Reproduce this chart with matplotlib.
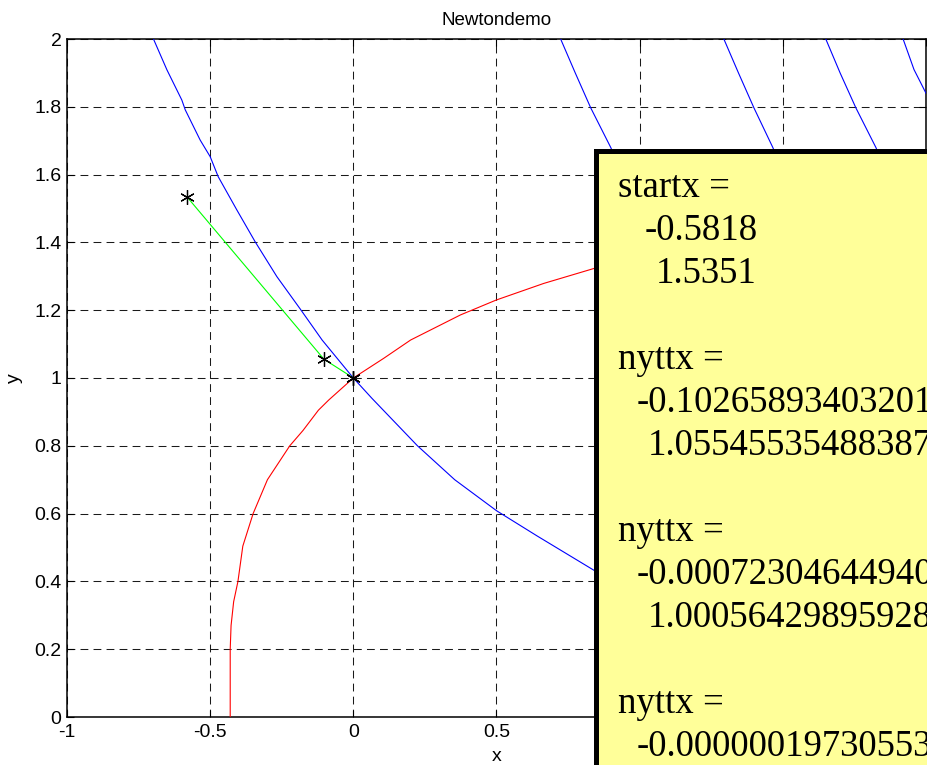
import matplotlib
matplotlib.use("Agg")
import matplotlib.pyplot as plt
from matplotlib.patches import Rectangle

# ---------------- data ----------------
# blue contour, main branch through (0, 1)
blue_main_x = [-0.698, -0.651, -0.599, -0.587, -0.535, -0.500, -0.472, -0.407, -0.343,
               -0.267, -0.185, -0.109, 0.000, 0.065, 0.224, 0.354, 0.501, 0.642, 0.840, 0.900]
blue_main_y = [2.000, 1.909, 1.820, 1.791, 1.702, 1.653, 1.594, 1.496, 1.402,
               1.299, 1.203, 1.112, 1.000, 0.940, 0.800, 0.700, 0.608, 0.534, 0.433, 0.405]
# blue contour, upper-right branches
blue_a_x = [0.724, 0.775, 0.829, 0.899, 0.925]
blue_a_y = [2.000, 1.900, 1.797, 1.680, 1.630]
blue_b_x = [1.294, 1.345, 1.399, 1.465, 1.490]
blue_b_y = [2.000, 1.900, 1.797, 1.680, 1.630]
blue_c_x = [1.650, 1.700, 1.755, 1.825, 1.850]
blue_c_y = [2.000, 1.900, 1.797, 1.680, 1.630]
blue_d_x = [1.920, 1.958, 2.000]
blue_d_y = [2.000, 1.910, 1.840]
# red contour
red_x = [-0.430, -0.430, -0.427, -0.418, -0.403, -0.386, -0.350, -0.300, -0.222, -0.176,
         -0.122, -0.086, 0.000, 0.106, 0.200, 0.374, 0.499, 0.665, 0.840, 0.950]
red_y = [0.000, 0.200, 0.270, 0.340, 0.400, 0.504, 0.600, 0.700, 0.800, 0.845,
         0.905, 0.935, 1.000, 1.058, 1.112, 1.186, 1.230, 1.279, 1.323, 1.350]
# Newton iterates
iter_x = [-0.5818, -0.102658934032010, -0.000723046449405, -0.000000197305533]
iter_y = [1.5351, 1.055455354883870, 1.000564298959280, 1.000000232000000]

x_ticks = [-1, -0.5, 0, 0.5, 1, 1.5, 2]
x_tick_labels = ["-1", "-0.5", "0", "0.5", "1", "1.5", "2"]
y_ticks = [0, 0.2, 0.4, 0.6, 0.8, 1.0, 1.2, 1.4, 1.6, 1.8, 2.0]
y_tick_labels = ["0", "0.2", "0.4", "0.6", "0.8", "1", "1.2", "1.4", "1.6", "1.8", "2"]

title_text = "Newtondemo"
x_label = "x"
y_label = "y"

# ---------------- figure ----------------
W, H = 928, 765
fig = plt.figure(figsize=(W / 100, H / 100), dpi=100)
fig.patch.set_facecolor("white")
plt.rcParams["font.family"] = ["Liberation Sans", "DejaVu Sans"]

ax_l, ax_r, ax_t, ax_b = 67, 926, 39, 717
ax = fig.add_axes([ax_l / W, 1 - ax_b / H, (ax_r - ax_l) / W, (ax_b - ax_t) / H])
ax.set_xlim(-1, 2)
ax.set_ylim(0, 2)

lw = 0.8
for bx, by in [(blue_main_x, blue_main_y), (blue_a_x, blue_a_y), (blue_b_x, blue_b_y),
               (blue_c_x, blue_c_y), (blue_d_x, blue_d_y)]:
    ax.plot(bx, by, color="#0000FF", lw=lw, zorder=3)
ax.plot(red_x, red_y, color="#FF0000", lw=lw, zorder=3)
ax.plot(iter_x, iter_y, color="#00FF00", lw=lw, zorder=4)
ax.plot(iter_x, iter_y, linestyle="none", marker=(6, 2, 0), markersize=10.5,
        markeredgecolor="black", markeredgewidth=0.9, color="black", zorder=5)

ax.set_xticks(x_ticks)
ax.set_xticklabels(x_tick_labels)
ax.set_yticks(y_ticks)
ax.set_yticklabels(y_tick_labels)
ax.tick_params(direction="in", length=5, width=0.8, labelsize=14, colors="black",
               top=True, right=True, pad=5)
ax.tick_params(axis="y", pad=4)
ax.grid(True, color="#1a1a1a", lw=0.75, linestyle=(0, (7.5, 5)))
for s in ax.spines.values():
    s.set_linewidth(1.1)
    s.set_color("black")
# tick labels at x >= 1 lie under the text box in the reference
for t, v in zip(ax.get_xticklabels(), x_ticks):
    if v >= 1:
        t.set_visible(False)

ax.set_title(title_text, fontsize=13.5, pad=10)
ax.set_xlabel(x_label, fontsize=14, labelpad=5)
ax.set_ylabel(y_label, fontsize=14, labelpad=8)

# ---------------- yellow text box ----------------
bw = 5  # border width in px
bx0, by0 = 593 + bw / 2, 148 + bw / 2
rect = Rectangle((bx0 / W, 1 - (H + 40) / H), (W + 40 - bx0) / W, (H + 40 - by0) / H,
                 transform=fig.transFigure, facecolor="#FFFF99", edgecolor="black",
                 linewidth=bw * 0.72, zorder=5, clip_on=False)
fig.patches.append(rect)

lines = [
    ("startx =", 618, 197),
    (f"{iter_x[0]:.4f}", 645, 240),
    (f"{iter_y[0]:.4f}", 656, 283),
    ("nyttx =", 618, 369),
    (f"{iter_x[1]:.15f}", 637, 412),
    (f"{iter_y[1]:.15f}", 648, 455),
    ("nyttx =", 618, 541),
    (f"{iter_x[2]:.15f}", 637, 584),
    (f"{iter_y[2]:.15f}", 648, 627),
    ("nyttx =", 618, 713),
    (f"{iter_x[3]:.15f}", 637, 756),
]
for s, px, py in lines:
    fig.text(px / W, 1 - py / H, s, fontsize=26.5, family=["Liberation Serif", "DejaVu Serif"],
             ha="left", va="baseline", color="black", zorder=6)

fig.savefig("out.png", dpi=100)
